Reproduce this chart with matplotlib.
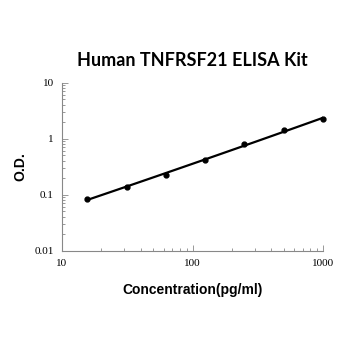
import numpy as np
import matplotlib
matplotlib.use("Agg")
import matplotlib.pyplot as plt

conc = [15.625, 31.25, 62.5, 125, 250, 500, 1000]
od = [0.084, 0.135, 0.228, 0.417, 0.80, 1.41, 2.22]

fig = plt.figure(figsize=(3.5, 3.5), dpi=100)
ax = fig.add_axes([0.177, 0.284, 0.746, 0.48])

# trend line fitted in log-log space
coef = np.polyfit(np.log10(conc), np.log10(od), 2)
xs = np.logspace(np.log10(conc[0]), np.log10(conc[-1]), 100)
ax.plot(xs, 10 ** np.polyval(coef, np.log10(xs)), color="black", lw=1.6)
ax.plot(conc, od, "o", color="black", ms=3.5, clip_on=False)

ax.set_xscale("log")
ax.set_yscale("log")
ax.set_xlim(10, 1000)
ax.set_ylim(0.01, 10)
ax.set_xticks([10, 100, 1000])
ax.set_xticklabels(["10", "100", "1000"])
ax.set_yticks([0.01, 0.1, 1, 10])
ax.set_yticklabels(["0.01", "0.1", "1", "10"])

for s in ["top", "right"]:
    ax.spines[s].set_visible(False)
for s in ["left", "bottom"]:
    ax.spines[s].set_color("#888888")
    ax.spines[s].set_linewidth(0.8)
ax.tick_params(which="both", direction="in", color="#888888", width=0.6)
ax.tick_params(which="major", length=4, labelsize=8, pad=6)
ax.tick_params(which="minor", length=2.5)
for lab in ax.get_xticklabels() + ax.get_yticklabels():
    lab.set_fontfamily("Liberation Serif")

ax.set_title("Human TNFRSF21 ELISA Kit", fontsize=13, fontweight="bold",
             fontfamily="Lato", pad=12)
ax.set_xlabel("Concentration(pg/ml)", fontsize=10, fontweight="bold",
              fontfamily="Liberation Sans", labelpad=11)
ax.set_ylabel("O.D.", fontsize=10, fontweight="bold",
              fontfamily="Liberation Sans", labelpad=5)

fig.savefig("out.png", dpi=100)
